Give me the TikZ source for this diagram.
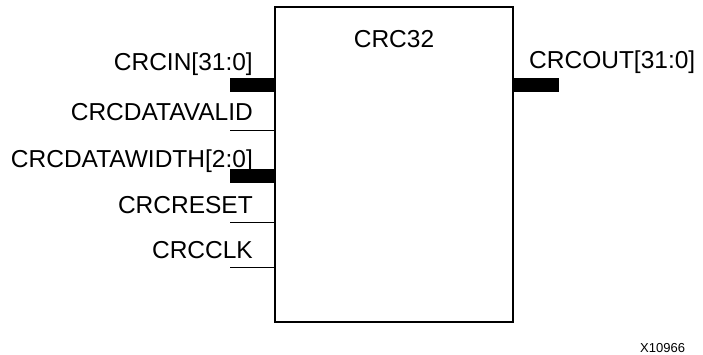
\documentclass[tikz,border=0pt]{standalone}
\usepackage{fontspec}
\setmainfont{Liberation Sans}
\begin{document}
\begin{tikzpicture}[x=1pt,y=-1pt,
  lbl/.style={inner sep=0pt,font=\fontsize{24.5}{29}\selectfont},
  bus/.style={line width=14pt},
  wire/.style={line width=1pt},
  blk/.style={draw,line width=2pt,rectangle,minimum width=238pt,minimum height=315pt,inner sep=0pt}]
\useasboundingbox (0,0) rectangle (703,354);
\node[blk] (box) at (394,164.5) {};
\node[lbl,anchor=base] (title) at (394,47) {CRC32};
% pin ends
\coordinate (p1) at (230,85);
\coordinate (p2) at (230,130);
\coordinate (p3) at (230,176);
\coordinate (p4) at (230,222);
\coordinate (p5) at (230,267);
\coordinate (po) at (559,85);
\draw[bus] (p1) -- (p1 -| box.west);
\draw[wire] (p2) -- (p2 -| box.west);
\draw[bus] (p3) -- (p3 -| box.west);
\draw[wire] (p4) -- (p4 -| box.west);
\draw[wire] (p5) -- (p5 -| box.west);
\draw[bus] (po -| box.east) -- (po);
\node[lbl,anchor=base east] (l1) at (253,70) {CRCIN[31:0]};
\node[lbl,anchor=base east] (l2) at (253,120.5) {CRCDATAVALID};
\node[lbl,anchor=base east] (l3) at (253,167) {CRCDATAWIDTH[2:0]};
\node[lbl,anchor=base east] (l4) at (253,213) {CRCRESET};
\node[lbl,anchor=base east] (l5) at (253,258) {CRCCLK};
\node[lbl,anchor=base west] (lo) at (529,68) {CRCOUT[31:0]};
\node[inner sep=0pt,anchor=base west,font=\fontsize{13}{15}\selectfont] (fig) at (640,352) {X10966};
\end{tikzpicture}
\end{document}
